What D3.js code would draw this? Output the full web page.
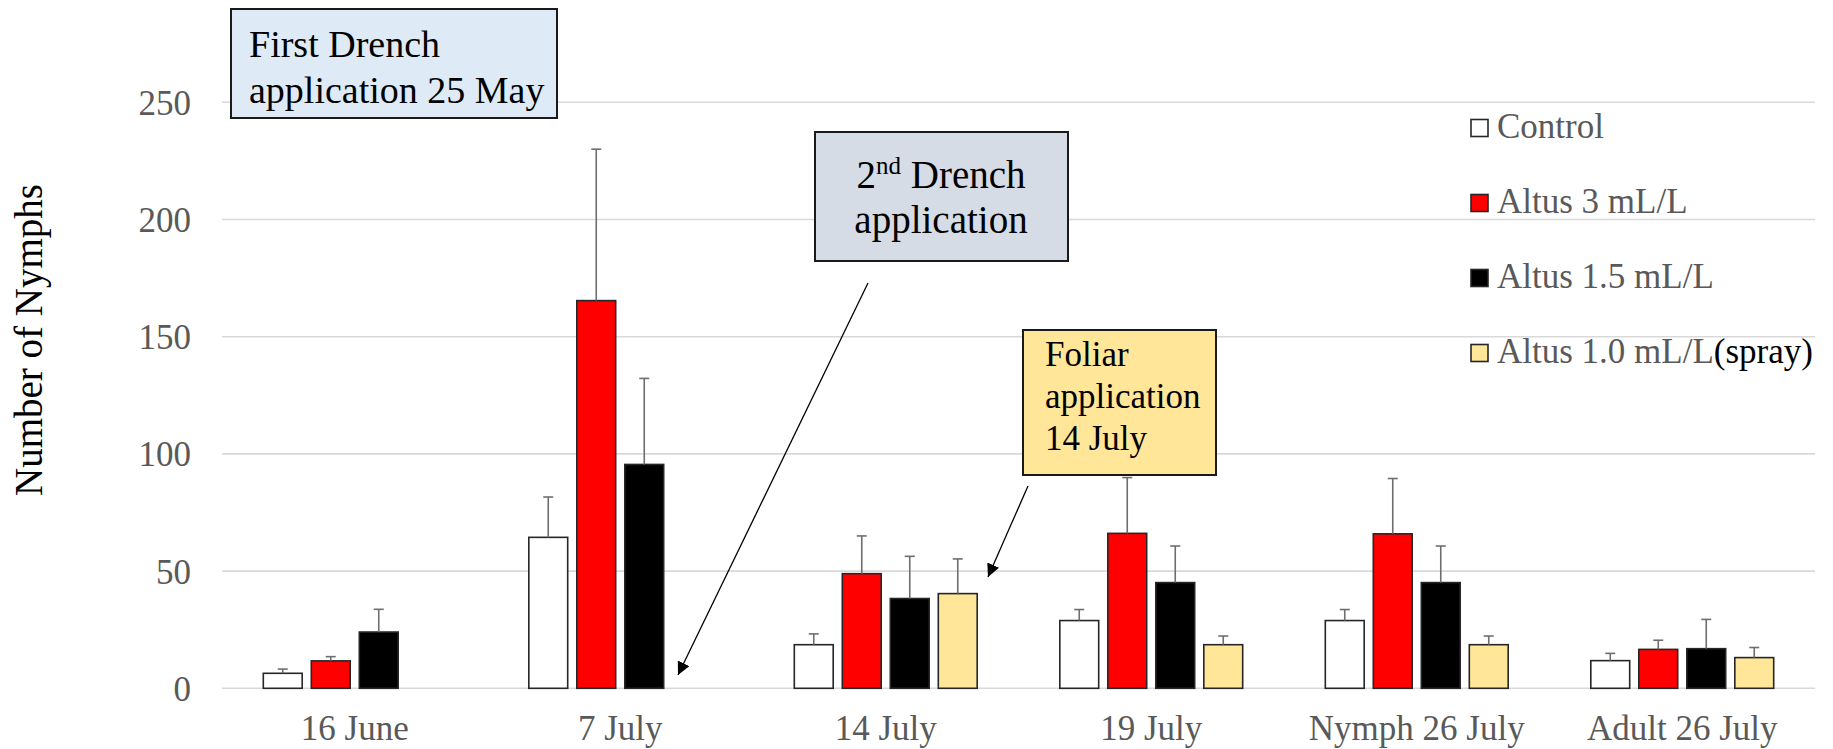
<!DOCTYPE html>
<html>
<head>
<meta charset="utf-8">
<script src="https://cdn.jsdelivr.net/npm/d3@7"></script>
<style>
  html, body { margin: 0; padding: 0; background: #fff; }
  svg { display: block; font-family: "Liberation Serif", "Times New Roman", serif; }
</style>
</head>
<body>
<svg id="chart" width="1833" height="749"></svg>
<script>
// ---------------- data ----------------
const categories = ["16 June", "7 July", "14 July", "19 July", "Nymph 26 July", "Adult 26 July"];
const seriesNames = ["Control", "Altus 3 mL/L", "Altus 1.5 mL/L", "Altus 1.0 mL/L"];
const seriesColors = ["#FFFFFF", "#FF0000", "#000000", "#FFE699"];

const controlValues = [6.4, 64.4, 18.6, 28.9, 28.9, 11.8];
const altus3Values  = [11.7, 165.4, 48.9, 66.1, 65.9, 16.6];
const altus15Values = [24.0, 95.5, 38.3, 45.1, 45.1, 16.9];
const altus10Values = [null, null, 40.4, 18.6, 18.6, 13.1];

const controlErrors = [1.8, 17.2, 4.6, 4.7, 4.7, 3.1];
const altus3Errors  = [1.8, 64.6, 16.1, 23.8, 23.6, 3.9];
const altus15Errors = [9.7, 36.7, 18.0, 15.6, 15.6, 12.5];
const altus10Errors = [null, null, 14.8, 3.7, 3.7, 4.3];

const yTicks = [0, 50, 100, 150, 200, 250];
const yTitle = "Number of Nymphs";

// ---------------- build ----------------
const seriesValues = [controlValues, altus3Values, altus15Values, altus10Values];
const seriesErrors = [controlErrors, altus3Errors, altus15Errors, altus10Errors];

const svg = d3.select("#chart");
const plotLeft = 222, plotRight = 1815;

const x0 = d3.scaleBand().domain(categories).range([plotLeft, plotRight]).padding(0);
const groupWidth = 192;
const x1 = d3.scaleBand().domain(seriesNames).range([0, groupWidth]).paddingInner(0.19).paddingOuter(0.095);
const groupOffset = (x0.bandwidth() - groupWidth) / 2;
const y = d3.scaleLinear().domain([0, 250]).range([688.3, 102.3]);

// gridlines
svg.append("g").selectAll("line").data(yTicks).join("line")
  .attr("x1", plotLeft).attr("x2", plotRight)
  .attr("y1", d => y(d)).attr("y2", d => y(d))
  .attr("stroke", "#d9d9d9").attr("stroke-width", 1.6);

// y tick labels via axis
const yAxis = d3.axisLeft(y).tickValues(yTicks).tickSize(0).tickPadding(0);
const yg = svg.append("g").attr("transform", "translate(191,0)").call(yAxis);
yg.select(".domain").remove();
yg.selectAll("text")
  .attr("font-size", 35).attr("fill", "#595959")
  .attr("font-family", "Liberation Serif, Times New Roman, serif")
  .attr("dy", "0.34em");

// x labels via axis
const xAxis = d3.axisBottom(x0).tickSize(0).tickPadding(0);
const xg = svg.append("g").attr("transform", "translate(0,740)").call(xAxis);
xg.select(".domain").remove();
xg.selectAll("text")
  .attr("font-size", 35).attr("fill", "#595959")
  .attr("font-family", "Liberation Serif, Times New Roman, serif")
  .attr("dy", 0).attr("y", 0);

// y title
svg.append("text")
  .attr("transform", "translate(42,340) rotate(-90)")
  .attr("text-anchor", "middle")
  .attr("font-size", 39).attr("fill", "#000")
  .text(yTitle);

// bars
const barData = [];
seriesNames.forEach((s, si) => {
  categories.forEach((c, ci) => {
    const v = seriesValues[si][ci];
    if (v !== null && v !== undefined) {
      barData.push({ s, si, c, v, e: seriesErrors[si][ci] });
    }
  });
});

const barsG = svg.append("g");
barsG.selectAll("rect").data(barData).join("rect")
  .attr("x", d => x0(d.c) + groupOffset + x1(d.s))
  .attr("y", d => y(d.v))
  .attr("width", x1.bandwidth())
  .attr("height", d => y(0) - y(d.v))
  .attr("fill", d => seriesColors[d.si])
  .attr("stroke", "#262626").attr("stroke-width", 1.6);

// error bars (plus only)
const errG = svg.append("g").attr("stroke", "#6e6e6e").attr("stroke-width", 1.6);
barData.forEach(d => {
  const cx = x0(d.c) + groupOffset + x1(d.s) + x1.bandwidth() / 2;
  errG.append("line").attr("x1", cx).attr("x2", cx).attr("y1", y(d.v)).attr("y2", y(d.v + d.e));
  errG.append("line").attr("x1", cx - 5).attr("x2", cx + 5).attr("y1", y(d.v + d.e)).attr("y2", y(d.v + d.e));
});

// legend
const legendX = 1471, legendTextX = 1497;
const legendCenters = [128, 203, 278, 353];
const lg = svg.append("g");
seriesNames.forEach((s, i) => {
  lg.append("rect").attr("x", legendX).attr("y", legendCenters[i] - 8.5)
    .attr("width", 17).attr("height", 17)
    .attr("fill", seriesColors[i]).attr("stroke", "#262626").attr("stroke-width", 1.6);
  const t = lg.append("text").attr("x", legendTextX).attr("y", legendCenters[i] + 10)
    .attr("font-size", 35).attr("fill", "#595959").text(s);
  if (i === 3) t.append("tspan").attr("fill", "#000").text("(spray)");
});

// annotations
const ann = svg.append("g");
// first drench box
ann.append("rect").attr("x", 231).attr("y", 9).attr("width", 326).attr("height", 109)
  .attr("fill", "#DEEBF7").attr("stroke", "#1a1a1a").attr("stroke-width", 2);
ann.append("text").attr("x", 249).attr("y", 57).attr("font-size", 38).attr("fill", "#000").text("First Drench");
ann.append("text").attr("x", 249).attr("y", 103).attr("font-size", 38).attr("fill", "#000").text("application 25 May");

// second drench box
ann.append("rect").attr("x", 815).attr("y", 132).attr("width", 253).attr("height", 129)
  .attr("fill", "#D6DCE5").attr("stroke", "#1a1a1a").attr("stroke-width", 2);
const t2 = ann.append("text").attr("x", 941).attr("y", 188).attr("text-anchor", "middle")
  .attr("font-size", 39).attr("fill", "#000");
t2.append("tspan").text("2");
t2.append("tspan").attr("font-size", 25).attr("dy", -14).text("nd");
t2.append("tspan").attr("dy", 14).text(" Drench");
ann.append("text").attr("x", 941).attr("y", 233).attr("text-anchor", "middle")
  .attr("font-size", 39).attr("fill", "#000").text("application");

// foliar box
ann.append("rect").attr("x", 1023).attr("y", 330).attr("width", 193).attr("height", 145)
  .attr("fill", "#FFE699").attr("stroke", "#1a1a1a").attr("stroke-width", 2);
["Foliar", "application", "14 July"].forEach((s, i) => {
  ann.append("text").attr("x", 1045).attr("y", 366 + i * 42).attr("font-size", 35).attr("fill", "#000").text(s);
});

// arrows
svg.append("defs").append("marker")
  .attr("id", "arrow").attr("viewBox", "0 0 10 10").attr("refX", 10).attr("refY", 5)
  .attr("markerWidth", 13).attr("markerHeight", 13).attr("markerUnits", "userSpaceOnUse")
  .attr("orient", "auto")
  .append("path").attr("d", "M0,0 L10,5 L0,10 z").attr("fill", "#000");

ann.append("line").attr("x1", 868).attr("y1", 283).attr("x2", 678).attr("y2", 675)
  .attr("stroke", "#000").attr("stroke-width", 1.3).attr("marker-end", "url(#arrow)");
ann.append("line").attr("x1", 1028).attr("y1", 486).attr("x2", 988).attr("y2", 577)
  .attr("stroke", "#000").attr("stroke-width", 1.3).attr("marker-end", "url(#arrow)");
</script>
</body>
</html>
